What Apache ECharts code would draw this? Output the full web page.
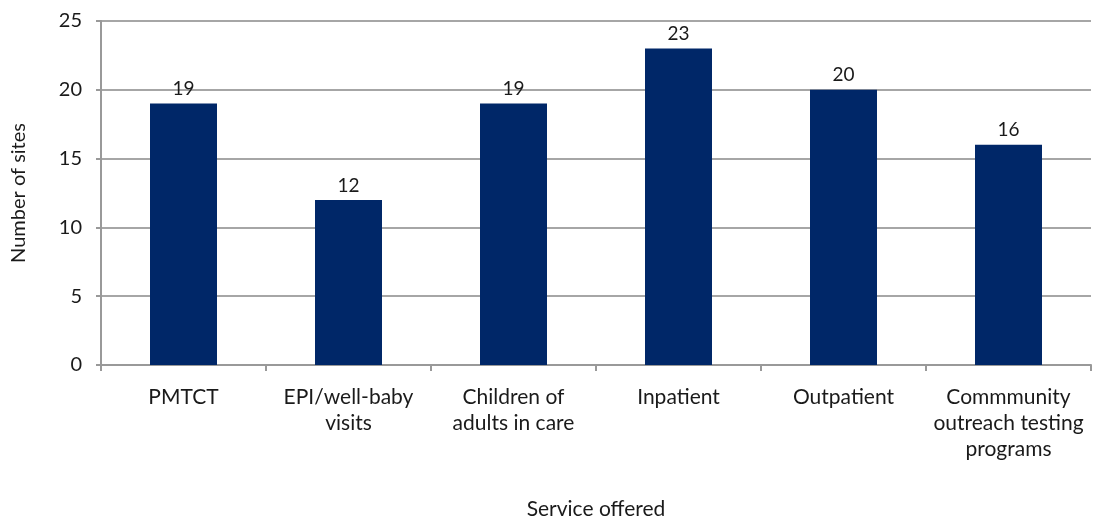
<!DOCTYPE html>
<html><head><meta charset="utf-8">
<script src="https://cdn.jsdelivr.net/npm/echarts@6/dist/echarts.min.js"></script>
<style>html,body{margin:0;padding:0;background:#fff}#c{width:1093px;height:525px}</style>
</head><body><div id="c"></div>
<script>
const categories = ["PMTCT", "EPI/well-baby\nvisits", "Children of\nadults in care", "Inpatient", "Outpatient", "Commmunity\noutreach testing\nprograms"];
const values = [19, 12, 19, 23, 20, 16];
const yTicks = [0, 5, 10, 15, 20, 25];
const FONT = "Lato";
const TXT = '#1a1a1a';
const chart = echarts.init(document.getElementById('c'));
chart.setOption({
  animation: false,
  textStyle: {fontFamily: FONT},
  grid: {left: 101, right: 2, top: 21, bottom: 153, containLabel: false},
  xAxis: {
    type: 'category', data: categories,
    name: 'Service offered', nameLocation: 'middle', nameGap: 134,
    nameTextStyle: {fontSize: 21, color: TXT, fontFamily: FONT},
    axisLine: {lineStyle: {color: '#999', width: 2}},
    axisTick: {show: true, alignWithLabel: false, length: 6, lineStyle: {color: '#999', width: 2}},
    axisLabel: {fontSize: 21, color: TXT, margin: 19, lineHeight: 26, interval: 0, fontFamily: FONT}
  },
  yAxis: {
    type: 'value', min: yTicks[0], max: yTicks[yTicks.length-1], interval: 5,
    name: 'Number of sites', nameLocation: 'middle', nameGap: 72,
    nameTextStyle: {fontSize: 20, color: TXT, fontFamily: FONT},
    axisLine: {show: true, lineStyle: {color: '#999', width: 2}},
    axisTick: {show: true, length: 5, lineStyle: {color: '#999', width: 2}},
    splitLine: {lineStyle: {color: '#a6a6a6', width: 2}},
    axisLabel: {fontSize: 20, color: TXT, margin: 19, fontFamily: FONT}
  },
  series: [{
    type: 'bar', data: values, barWidth: 67,
    itemStyle: {color: '#002768'},
    label: {show: true, position: 'top', fontSize: 19, color: TXT, distance: 5, fontFamily: FONT}
  }]
});
</script></body></html>
